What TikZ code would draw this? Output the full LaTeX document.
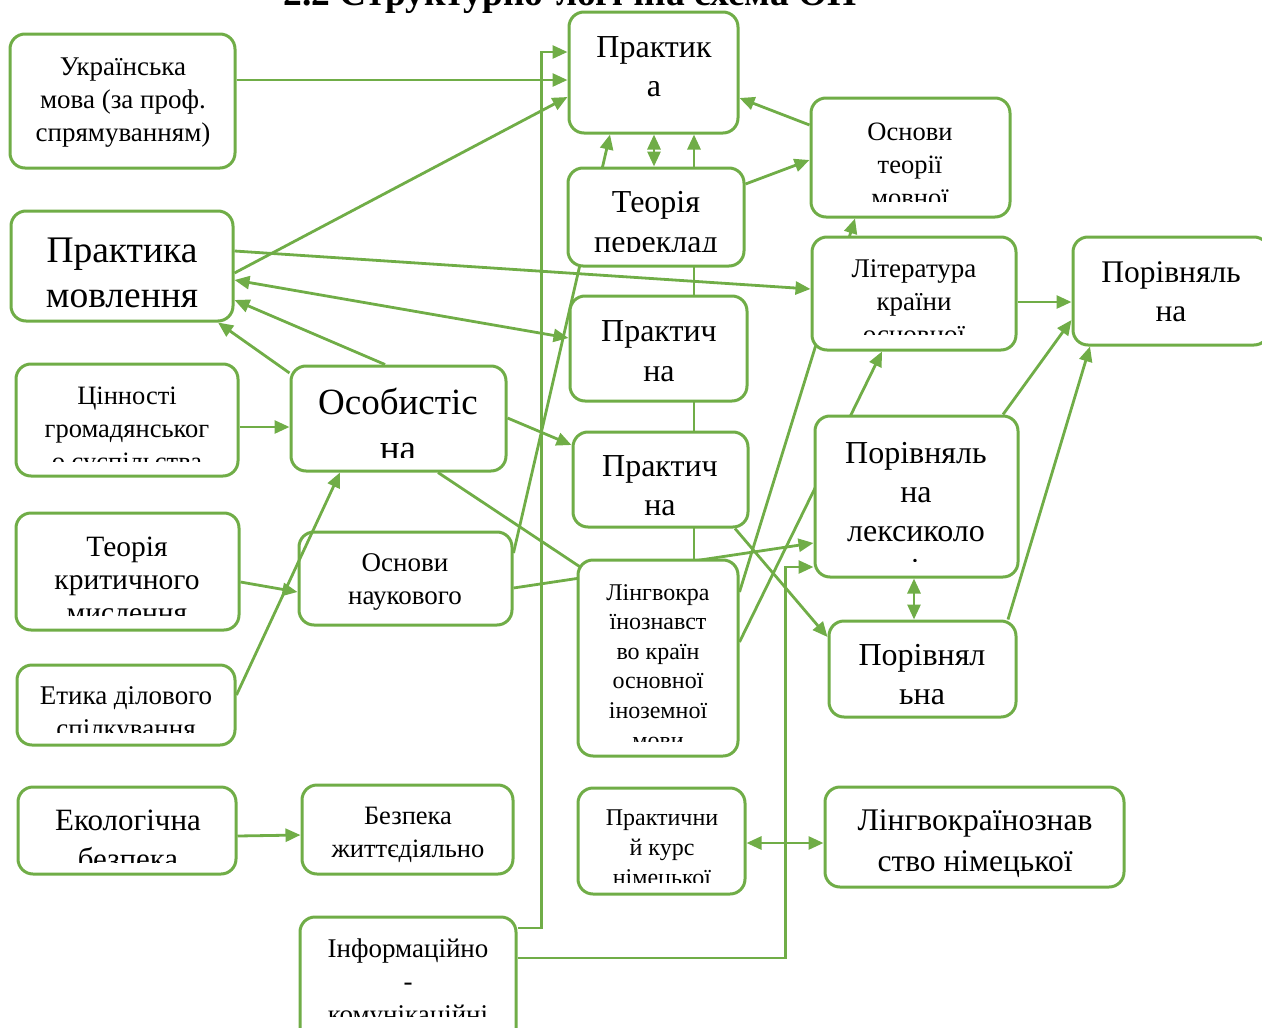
\documentclass[tikz,border=0pt]{standalone}
\usepackage{fontspec}
\setmainfont{Liberation Serif}
\usetikzlibrary{arrows.meta,calc}
\definecolor{gr}{HTML}{70AD47}
\pgfdeclarelayer{bg}
\pgfsetlayers{bg,main}
\tikzset{
 box/.style={draw=gr, line width=3pt, rounded corners=15pt, fill=white, inner sep=0pt},
 txt/.style={align=center, inner sep=0pt, anchor=base, text=black},
 con/.style={draw=gr, line width=2.8pt},
 arr/.style={con, -{Triangle[length=15pt,width=13pt]}},
 darr/.style={con, {Triangle[length=15pt,width=13pt]}-{Triangle[length=15pt,width=13pt]}},
}
\newcommand\fs[2]{\fontsize{#1}{#2}\selectfont}
\newcommand\bx[5]{\node[box, minimum width={#4-#2}, minimum height={#5-#3}] (#1) at ({(#2+#4)/2},{(#3+#5)/2}) {};}
% #3 = baseline of the last line
\newcommand\tx[8]{\begin{scope}\clip (#7.north west) rectangle (#7.east |- 0,#6); \node[txt, font=\fs{#4}{#5}] (#1) at (#2,#3) {#8};\end{scope}}
\begin{document}
\begin{tikzpicture}[x=1pt,y=-1pt]
\useasboundingbox (0,0) rectangle (1262,1028);
\clip (0,0) rectangle (1262,1028);
\node[font=\bfseries\fs{37.5}{42}, anchor=base, inner sep=0pt] (title) at (570,5) {2.2 Структурно-логічна схема ОП};
\bx{ukr}{10}{34}{235}{168}
\bx{prak}{569}{12}{738}{133}
\bx{ostm}{811}{98}{1010}{217}
\bx{teor}{568}{168}{744}{266}
\bx{pm}{11}{211}{233}{321}
\bx{lit}{812}{237}{1016}{350}
\bx{porA}{1073}{237}{1269}{345}
\bx{prA}{570}{296}{747}{401}
\bx{cin}{16}{364}{238}{476}
\bx{os}{291}{366}{506}{471}
\bx{prB}{573}{432}{748}{527}
\bx{plex}{815}{416}{1018}{577}
\bx{tkm}{16}{513}{239}{630}
\bx{on}{299}{532}{512}{625}
\bx{lkr}{578}{560}{738}{756}
\bx{porB}{829}{621}{1016}{717}
\bx{et}{17}{665}{235}{745}
\bx{eko}{18}{787}{236}{874}
\bx{bzh}{302}{785}{513}{874}
\bx{pkn}{578}{788}{745}{894}
\bx{lkn}{825}{787}{1124}{887}
\bx{inf}{300}{917}{516}{1045}
\tx{ukr-t}{123}{141}{27}{33}{168}{ukr}{Українська\\мова (за проф.\\спрямуванням)}
\tx{prak-t}{654}{96}{32}{39}{133}{prak}{Практик\\а}
\tx{ostm-t}{910}{206}{26.5}{33}{201}{ostm}{Основи\\теорії\\мовної}
\tx{teor-t}{656}{252}{32}{40}{251}{teor}{Теорія\\переклад}
\tx{pm-t}{122}{307}{37.5}{45}{321}{pm}{Практика\\мовлення}
\tx{lit-t}{914}{343}{27}{33}{334}{lit}{Література\\країни\\основної}
\tx{porA-t}{1171}{321}{31.5}{39}{345}{porA}{Порівняль\\на}
\tx{prA-t}{659}{381}{32}{40}{401}{prA}{Практич\\на}
\tx{cin-t}{127}{470}{26.5}{33}{461}{cin}{Цінності\\громадянськог\\о суспільства}
\tx{os-t}{398}{460}{37}{46}{457}{os}{Особистіс\\на}
\tx{prB-t}{660}{515}{32}{39}{515}{prB}{Практич\\на}
\tx{plex-t}{916}{580}{32}{39}{561}{plex}{Порівняль\\на\\лексиколо\\гія}
\tx{tkm-t}{127}{622}{29.5}{33}{615}{tkm}{Теорія\\критичного\\мислення}
\tx{on-t}{405}{604}{27}{33}{625}{on}{Основи\\наукового}
\tx{lkr-t}{658}{748}{24}{29.6}{741}{lkr}{Лінгвокра\\їнознавст\\во країн\\основної\\іноземної\\мови}
\tx{porB-t}{922}{704}{32}{39}{717}{porB}{Порівнял\\ьна}
\tx{et-t}{126}{737}{27}{33}{732}{et}{Етика ділового\\спілкування}
\tx{eko-t}{128}{869}{31}{39}{862}{eko}{Екологічна\\безпека}
\tx{bzh-t}{408}{857}{26.5}{33}{874}{bzh}{Безпека\\життєдіяльно}
\tx{pkn-t}{662}{885}{24}{30}{882}{pkn}{Практични\\й курс\\німецької}
\tx{lkn-t}{975}{871}{31.5}{41}{887}{lkn}{Лінгвокраїнознав\\ство німецької}
\tx{inf-t}{408}{1023}{27}{33}{1016}{inf}{Інформаційно\\-\\комунікаційні}
\begin{pgfonlayer}{bg}
\draw[arr] (ukr.east |- 0,80) -- (prak.west |- 0,80);
\draw[arr] (inf.east |- 0,928) -| ($(prak.west |- 0,52)+(-26,0)$) -- (prak.west |- 0,52);
\draw[arr] (pm.east |- 0,273) -- (prak.west |- 0,97);
\draw[arr] (on.east |- 0,553) -- (prak.south -| 610,0);
\draw[darr] (teor.north -| 654,0) -- (prak.south -| 654,0);
\draw[arr] (lkr.north -| 694,0) -- (prak.south -| 694,0);
\draw[arr] (teor.east |- 0,184) -- (ostm.west |- 0,160);
\draw[arr] (ostm.west |- 0,125) -- (prak.east |- 0,98);
\draw[arr] (pm.east |- 0,251) -- (lit.west |- 0,289);
\draw[darr] (pm.east |- 0,280) -- (prA.west |- 0,338);
\draw[arr] (os.north -| 385,0) -- (pm.east |- 0,300);
\draw[arr] (os.west |- 0,373) -- (pm.south -| 218,0);
\draw[arr] (cin.east |- 0,427) -- (os.west |- 0,427);
\draw[arr] (os.east |- 0,418) -- (prB.west |- 0,445);
\draw[con] (os.south -| 438,0) -- ($(lkr.north west)+(6,10)$);
\draw[arr] (on.east |- 0,588) -- (plex.west |- 0,543);
\draw[arr] (lkr.east |- 0,592) -- (ostm.south -| 855,0);
\draw[arr] (lkr.east |- 0,642) -- (lit.south -| 882,0);
\draw[arr] (prB.south -| 735,0) -- (porB.west |- 0,637);
\draw[darr] (plex.south -| 914,0) -- (porB.north -| 914,0);
\draw[arr] (porB.north -| 1008,0) -- (porA.south -| 1090,0);
\draw[arr] (plex.north -| 1003,0) -- (porA.west |- 0,320);
\draw[arr] (lit.east |- 0,302) -- (porA.west |- 0,302);
\draw[arr] (inf.east |- 0,958) -| ($(plex.west |- 0,567)+(-28,0)$) -- (plex.west |- 0,567);
\draw[darr] (pkn.east |- 0,843) -- (lkn.west |- 0,843);
\draw[arr] (eko.east |- 0,836) -- (bzh.west |- 0,835);
\draw[arr] (tkm.east |- 0,582) -- (on.west |- 0,592);
\end{pgfonlayer}
\draw[arr] (et.east |- 0,695) -- (os.south -| 340,0);
\end{tikzpicture}
\end{document}
